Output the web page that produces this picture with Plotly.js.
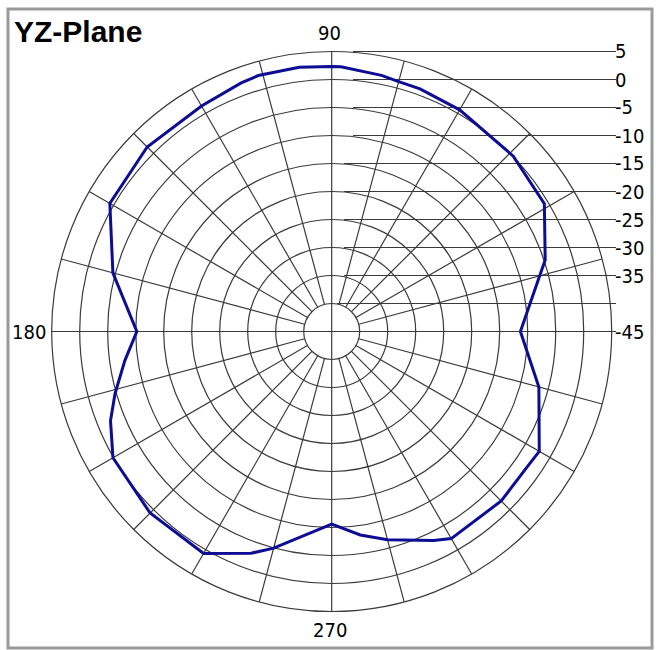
<!DOCTYPE html>
<html>
<head>
<meta charset="utf-8">
<script src="https://cdn.plot.ly/plotly-3.0.1.min.js"></script>
<style>html,body{margin:0;padding:0;background:#fff}#chart{width:667px;height:650px}</style>
</head>
<body>
<div id="chart"></div>
<script>
// ---- data ----
const angles = [0, 15, 18.5, 31, 44, 60, 70, 75, 79, 88, 90, 97, 106, 110, 120, 135, 150, 165, 180, 188, 196, 202, 210, 225, 240, 250, 255, 270, 278, 285, 296, 300, 315, 325, 330, 345, 360];
const gainDb = [-11.3, -6.55, -4.8, -0.7, 0.07, 0.7, 1.1, 1.2, 1.6, 2.3, 2.3, 2.55, 2.55, 2.25, 1.5, 1.6, 0.75, -4.55, -10.2, -7.7, -4.75, -2.4, 0.1, 0.85, 0.75, -2.85, -4.95, -10.6, -8.3, -6.5, -3.5, -2.3, -2.2, -2.55, -2.2, -6.7, -11.3];
const radialTickVals = [5, 0, -5, -10, -15, -20, -25, -30, -35, -40, -45];
const radialTickText = ['5', '0', '-5', '-10', '-15', '-20', '-25', '-30', '-35', '', '-45'];
const angularLabelVals = [90, 180, 270];
const angularLabelText = ['90', '180', '270'];
const spokeAngles = [0,15,30,45,60,75,90,105,120,135,150,165,180,195,210,225,240,255,270,285,300,315,330,345];
const titleText = 'YZ-Plane';

// ---- geometry ----
const W = 667, H = 650;
const cx = 331.7, cy = 331.5, R = 280;
const rMin = -45, rMax = 5;
const px = x => x / W;
const py = y => (H - y) / H;
const rpx = v => (v - rMin) / (rMax - rMin) * R;
const gridColor = '#3a3a3a';
const gridWidth = 1.2;
const labelFont = {family: "'DejaVu Sans Condensed', 'DejaVu Sans', sans-serif", size: 20, color: '#000'};

// spokes: cardinal ones from the centre, the others from the first ring
const spokeR = [], spokeT = [];
spokeAngles.forEach(a => {
  const start = (a % 90 === 0) ? rMin : rMin + 5;
  spokeR.push(start, rMax, null);
  spokeT.push(a, a, null);
});

const traces = [
  {type: 'scatterpolar', mode: 'lines', r: spokeR, theta: spokeT,
   line: {color: gridColor, width: gridWidth}, hoverinfo: 'skip', showlegend: false, connectgaps: false},
  {type: 'scatterpolar', mode: 'lines', r: gainDb, theta: angles,
   line: {color: '#0c0c94', width: 3}, showlegend: false, name: 'YZ-Plane'}
];

// horizontal leader lines to the radial labels on the right
const shapes = [];
const annotations = [];
radialTickVals.forEach((v, i) => {
  const y = cy - rpx(v);
  const xs = v >= -10 ? 353 : (v >= -35 ? 344 : 337);
  shapes.push({type: 'line', xref: 'paper', yref: 'paper', layer: 'below',
    x0: px(xs), x1: px(616), y0: py(y), y1: py(y), line: {color: gridColor, width: gridWidth}});
  if (radialTickText[i] !== '') {
    annotations.push({xref: 'paper', yref: 'paper', x: px(613), y: py(y),
      xanchor: 'left', yanchor: 'middle', showarrow: false, text: radialTickText[i], font: labelFont});
  }
});

// angular labels
angularLabelVals.forEach((a, i) => {
  const ann = {xref: 'paper', yref: 'paper', showarrow: false, text: angularLabelText[i], font: labelFont};
  if (a === 90) { Object.assign(ann, {x: px(cx - 2), y: py(cy - R - 5), xanchor: 'center', yanchor: 'bottom'}); }
  if (a === 180) { Object.assign(ann, {x: px(cx - R - 4), y: py(cy), xanchor: 'right', yanchor: 'middle'}); }
  if (a === 270) { Object.assign(ann, {x: px(cx - 2), y: py(cy + R + 4), xanchor: 'center', yanchor: 'top'}); }
  annotations.push(ann);
});

// title
annotations.push({xref: 'paper', yref: 'paper', x: px(12), y: py(31), xanchor: 'left', yanchor: 'middle',
  showarrow: false, text: '<b>' + titleText + '</b>',
  font: {family: "'Liberation Sans', Arial, sans-serif", size: 30, color: '#000'}});

// outer frame
shapes.push({type: 'rect', xref: 'paper', yref: 'paper', layer: 'below',
  x0: px(8), x1: px(652), y0: py(648), y1: py(9), line: {color: '#9a9a9a', width: 3}});

const layout = {
  width: W, height: H,
  margin: {l: 0, r: 0, t: 0, b: 0},
  paper_bgcolor: '#ffffff',
  showlegend: false,
  polar: {
    domain: {x: [px(cx - R), px(cx + R)], y: [py(cy + R), py(cy - R)]},
    bgcolor: 'rgba(0,0,0,0)',
    radialaxis: {range: [rMin, rMax], tick0: rMin, dtick: 5, showticklabels: false, ticks: '',
      showline: false, gridcolor: gridColor, gridwidth: gridWidth, angle: 0},
    angularaxis: {rotation: 0, direction: 'counterclockwise', showgrid: false, showticklabels: false,
      ticks: '', showline: true, linecolor: gridColor, linewidth: gridWidth}
  },
  shapes: shapes,
  annotations: annotations
};

Plotly.newPlot('chart', traces, layout, {staticPlot: true, displayModeBar: false});
</script>
</body>
</html>
